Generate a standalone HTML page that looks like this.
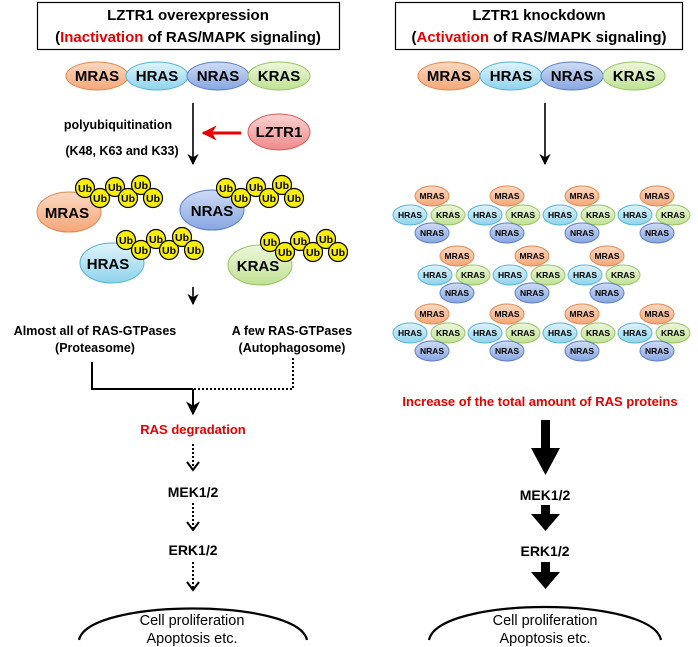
<!DOCTYPE html>
<html><head><meta charset="utf-8"><style>
html,body{margin:0;padding:0;background:#fff;}
svg{display:block;font-family:"Liberation Sans",Arial,sans-serif;}
.b{font-weight:bold;}
</style></head><body>
<svg width="698" height="647" viewBox="0 0 698 647" xmlns="http://www.w3.org/2000/svg">
<defs>
<linearGradient id="gm" x1="0" y1="0" x2="0" y2="1"><stop offset="0" stop-color="#fcd9c2"/><stop offset="1" stop-color="#f4a777"/></linearGradient>
<linearGradient id="gh" x1="0" y1="0" x2="0" y2="1"><stop offset="0" stop-color="#dff4fb"/><stop offset="1" stop-color="#8fd3ec"/></linearGradient>
<linearGradient id="gn" x1="0" y1="0" x2="0" y2="1"><stop offset="0" stop-color="#cfdcf5"/><stop offset="1" stop-color="#87a6e0"/></linearGradient>
<linearGradient id="gk" x1="0" y1="0" x2="0" y2="1"><stop offset="0" stop-color="#eef7dc"/><stop offset="1" stop-color="#bfe193"/></linearGradient>
<linearGradient id="gl" x1="0" y1="0" x2="0" y2="1"><stop offset="0" stop-color="#fbd2d2"/><stop offset="1" stop-color="#f08a8a"/></linearGradient>
<g id="ub"><circle r="9.5" fill="#f7ee10" stroke="#000" stroke-width="1.2"/><text y="4" text-anchor="middle" font-size="10.5" class="b">Ub</text></g>
<g id="chain">
<use href="#ub" x="0" y="0"/><use href="#ub" x="15" y="10"/><use href="#ub" x="30" y="-1"/><use href="#ub" x="43" y="10"/><use href="#ub" x="56" y="-3"/><use href="#ub" x="68" y="10"/>
</g>
<g id="cl">
<ellipse cx="0" cy="0" rx="17" ry="10" fill="url(#gm)" stroke="#e08a55"/>
<ellipse cx="-22" cy="19" rx="17" ry="10" fill="url(#gh)" stroke="#55b5d8"/>
<ellipse cx="16" cy="19" rx="17" ry="10" fill="url(#gk)" stroke="#96c466"/>
<ellipse cx="0" cy="37" rx="17" ry="10" fill="url(#gn)" stroke="#5c7fc8"/>
<g font-size="8.5" class="b" text-anchor="middle">
<text x="0" y="3">MRAS</text><text x="-22" y="22">HRAS</text><text x="16" y="22">KRAS</text><text x="0" y="40">NRAS</text></g>
</g>
<marker id="ah" viewBox="0 0 10 10" refX="9" refY="5" markerWidth="7" markerHeight="7" orient="auto"><path d="M0,0 L10,5 L0,10 L3,5z" fill="#000"/></marker>
<marker id="ar" viewBox="0 0 10 10" refX="9" refY="5" markerWidth="5" markerHeight="5" orient="auto"><path d="M0,0 L10,5 L0,10 L3,5z" fill="#e60000"/></marker>
</defs>

<rect x="37.5" y="2.5" width="302" height="47" fill="#fff" stroke="#000" stroke-width="1.2"/>
<text x="188" y="20" text-anchor="middle" font-size="15" class="b">LZTR1 overexpression</text>
<text x="188" y="42" text-anchor="middle" font-size="15" class="b">(<tspan fill="#e60000">Inactivation</tspan> of RAS/MAPK signaling)</text>
<rect x="395.5" y="2.5" width="287" height="47" fill="#fff" stroke="#000" stroke-width="1.2"/>
<text x="539" y="20" text-anchor="middle" font-size="15" class="b">LZTR1 knockdown</text>
<text x="539" y="42" text-anchor="middle" font-size="15" class="b">(<tspan fill="#e60000">Activation</tspan> of RAS/MAPK signaling)</text>

<g font-size="15" class="b" text-anchor="middle">
<ellipse cx="97" cy="76" rx="31" ry="14" fill="url(#gm)" stroke="#e08a55"/>
<ellipse cx="157" cy="76" rx="31" ry="14" fill="url(#gh)" stroke="#55b5d8"/>
<ellipse cx="218" cy="76" rx="31" ry="14" fill="url(#gn)" stroke="#5c7fc8"/>
<ellipse cx="279" cy="76" rx="31" ry="14" fill="url(#gk)" stroke="#96c466"/>
<text x="97" y="81">MRAS</text><text x="157" y="81">HRAS</text><text x="218" y="81">NRAS</text><text x="279" y="81">KRAS</text>
<ellipse cx="449" cy="76" rx="31" ry="14" fill="url(#gm)" stroke="#e08a55"/>
<ellipse cx="511" cy="76" rx="31" ry="14" fill="url(#gh)" stroke="#55b5d8"/>
<ellipse cx="572" cy="76" rx="31" ry="14" fill="url(#gn)" stroke="#5c7fc8"/>
<ellipse cx="634" cy="76" rx="31" ry="14" fill="url(#gk)" stroke="#96c466"/>
<text x="449" y="81">MRAS</text><text x="511" y="81">HRAS</text><text x="572" y="81">NRAS</text><text x="634" y="81">KRAS</text>
</g>

<line x1="193" y1="103" x2="193" y2="164" stroke="#000" stroke-width="1.6" marker-end="url(#ah)"/>
<text x="118" y="129" text-anchor="middle" font-size="12.5" class="b">polyubiquitination</text>
<text x="122" y="155" text-anchor="middle" font-size="12.5" class="b">(K48, K63 and K33)</text>
<line x1="241" y1="133" x2="203" y2="133" stroke="#e60000" stroke-width="3" marker-end="url(#ar)"/>
<ellipse cx="279" cy="132" rx="31" ry="18" fill="url(#gl)" stroke="#d06060"/>
<text x="279" y="137" text-anchor="middle" font-size="15" class="b">LZTR1</text>

<g font-size="15" class="b" text-anchor="middle">
<ellipse cx="69" cy="212" rx="32" ry="20" fill="url(#gm)" stroke="#e08a55"/>
<text x="67" y="218">MRAS</text>
<ellipse cx="212" cy="210" rx="32" ry="20" fill="url(#gn)" stroke="#5c7fc8"/>
<text x="212" y="216">NRAS</text>
<ellipse cx="112" cy="263" rx="32" ry="20" fill="url(#gh)" stroke="#55b5d8"/>
<text x="108" y="269">HRAS</text>
<ellipse cx="260" cy="265" rx="32" ry="20" fill="url(#gk)" stroke="#96c466"/>
<text x="258" y="271">KRAS</text>
</g>
<use href="#chain" x="85" y="188"/>
<use href="#chain" x="226" y="188"/>
<use href="#chain" x="126" y="240"/>
<use href="#chain" x="270" y="242"/>

<line x1="193" y1="287" x2="193" y2="304" stroke="#000" stroke-width="1.6" marker-end="url(#ah)"/>
<g font-size="12.5" class="b" text-anchor="middle">
<text x="95" y="335">Almost all of RAS-GTPases</text>
<text x="95" y="352">(Proteasome)</text>
<text x="292" y="335">A few RAS-GTPases</text>
<text x="292" y="352">(Autophagosome)</text>
</g>
<polyline points="92,362 92,389 193,389" fill="none" stroke="#000" stroke-width="2"/>
<polyline points="293,358 293,389 193,389" fill="none" stroke="#000" stroke-width="2" stroke-dasharray="2,2"/>
<line x1="193" y1="389" x2="193" y2="414" stroke="#000" stroke-width="2" marker-end="url(#ah)"/>
<text x="193" y="434" text-anchor="middle" font-size="13" class="b" fill="#e60000">RAS degradation</text>
<g stroke="#000" stroke-width="2" stroke-dasharray="2,2" fill="none">
<line x1="193" y1="444" x2="193" y2="468"/>
<line x1="193" y1="503" x2="193" y2="528"/>
<line x1="193" y1="562" x2="193" y2="588"/>
</g>
<g fill="none" stroke="#000" stroke-width="2">
<polyline points="187,462 193,470 199,462"/>
<polyline points="187,522 193,530 199,522"/>
<polyline points="187,582 193,590 199,582"/>
</g>
<text x="193" y="497" text-anchor="middle" font-size="14" class="b">MEK1/2</text>
<text x="193" y="555" text-anchor="middle" font-size="14" class="b">ERK1/2</text>
<path d="M79,640 C88,598 298,598 307,640" fill="none" stroke="#000" stroke-width="2.2"/>
<text x="192" y="625" text-anchor="middle" font-size="14.5">Cell proliferation</text>
<text x="192" y="643" text-anchor="middle" font-size="14.5">Apoptosis etc.</text>

<line x1="545" y1="103" x2="545" y2="164" stroke="#000" stroke-width="1.6" marker-end="url(#ah)"/>
<use href="#cl" x="432" y="196"/><use href="#cl" x="507" y="196"/><use href="#cl" x="582" y="196"/><use href="#cl" x="657" y="196"/>
<use href="#cl" x="457" y="256"/><use href="#cl" x="532" y="256"/><use href="#cl" x="607" y="256"/>
<use href="#cl" x="432" y="314"/><use href="#cl" x="507" y="314"/><use href="#cl" x="582" y="314"/><use href="#cl" x="657" y="314"/>

<text x="540" y="406" text-anchor="middle" font-size="13" class="b" fill="#e60000">Increase of the total amount of RAS proteins</text>
<path d="M541,420 h9 v28 h10 l-14.5,27 l-14.5,-27 h10z" fill="#000"/>
<text x="545" y="500" text-anchor="middle" font-size="14" class="b">MEK1/2</text>
<path d="M541,505 h9 v9 h10 l-14.5,17 l-14.5,-17 h10z" fill="#000"/>
<text x="545" y="556" text-anchor="middle" font-size="14" class="b">ERK1/2</text>
<path d="M541,562 h9 v10 h10 l-14.5,17 l-14.5,-17 h10z" fill="#000"/>
<path d="M429,640 C438,596 652,596 661,640" fill="none" stroke="#000" stroke-width="2.2"/>
<text x="545" y="625" text-anchor="middle" font-size="14.5">Cell proliferation</text>
<text x="545" y="643" text-anchor="middle" font-size="14.5">Apoptosis etc.</text>
</svg>
</body></html>
